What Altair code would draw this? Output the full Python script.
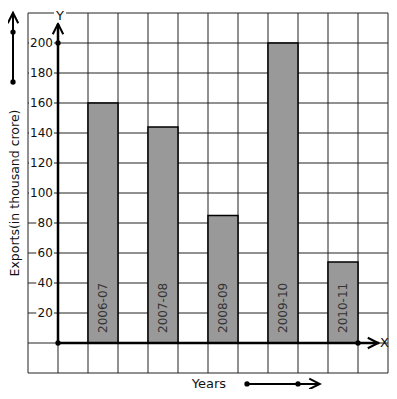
import altair as alt
import pandas as pd

# ---- data ----
years = ["2006-07", "2007-08", "2008-09", "2009-10", "2010-11"]
exports = [160, 144, 85, 200, 54]
bar_start = [1, 3, 5, 7, 9]
y_ticks = [20, 40, 60, 80, 100, 120, 140, 160, 180, 200]
grid_x = list(range(-1, 12))
grid_y = list(range(-20, 221, 20))

XD = [-1, 11]
YD = [-20, 220]
xs = alt.Scale(domain=XD, nice=False, zero=False)
ys = alt.Scale(domain=YD, nice=False, zero=False)
FONT = "DejaVu Sans"

def X(f="x"):
    return alt.X(f"{f}:Q", scale=xs, axis=None)

def Y(f="y"):
    return alt.Y(f"{f}:Q", scale=ys, axis=None)

# grid
vgrid = pd.DataFrame({"x": grid_x, "y": YD[0], "y2": YD[1]})
hgrid = pd.DataFrame({"y": grid_y, "x": XD[0], "x2": XD[1]})
grid_v = alt.Chart(vgrid).mark_rule(color="#222", strokeWidth=1).encode(
    x=X(), y=Y(), y2="y2:Q")
grid_h = alt.Chart(hgrid).mark_rule(color="#222", strokeWidth=1).encode(
    y=Y(), x=X(), x2="x2:Q")

# bars
bars_df = pd.DataFrame({"year": years, "value": exports, "x": bar_start,
                        "x2": [b + 1 for b in bar_start], "y0": 0})
bars = alt.Chart(bars_df).mark_rect(fill="#999999", stroke="#000", strokeWidth=1.5).encode(
    x=X(), x2="x2:Q", y=Y("y0"), y2="value:Q")
bars_df["xc"] = bars_df["x"] + 0.5
bars_df["yl"] = 6.7
bar_text = alt.Chart(bars_df).mark_text(angle=270, align="left", baseline="middle",
                                        fontSize=12, font=FONT, color="#333").encode(
    x=X("xc"), y=Y("yl"), text="year:N")

# y tick labels with white backgrounds
lab_x = -0.17
tk = pd.DataFrame({"v": y_ticks, "t": [str(v) for v in y_ticks]})
tk["x"] = lab_x
tk["xb1"] = lab_x - (7.3 * tk["t"].str.len() + 2) / 30
tk["xb2"] = lab_x + 1 / 30
tk["yb1"] = tk["v"] - 4
tk["yb2"] = tk["v"] + 4
tick_bg = alt.Chart(tk).mark_rect(fill="white").encode(
    x=X("xb1"), x2="xb2:Q", y=Y("yb1"), y2="yb2:Q")
tick_txt = alt.Chart(tk).mark_text(align="right", baseline="middle", fontSize=12,
                                   font=FONT, color="#111").encode(
    x=X(), y=Y("v"), text="t:N")

# axis lines and decorations
LX = -1.5      # left decorative arrow
BY = -27.3     # bottom "Years" row
segs = pd.DataFrame({
    "x":  [0, 0, LX, 6.3],
    "x2": [10.7, 0, LX, 8.7],
    "y":  [0, 0, 174, BY],
    "y2": [0, 212.7, 220, BY],
    "w":  ["a", "a", "b", "b"],
})
axis_lines = alt.Chart(segs).mark_rule(color="#000").encode(
    x=X(), x2="x2:Q", y=Y(), y2="y2:Q",
    strokeWidth=alt.StrokeWidth("w:N", scale=alt.Scale(domain=["a", "b"], range=[2.5, 2]), legend=None))

up = pd.DataFrame({"x": [0, LX], "y": [209.3, 216.7]})
right = pd.DataFrame({"x": [10.5, 8.55], "y": [0, BY]})
arrow_up = alt.Chart(up).mark_point(shape="M-1,1L0,-1L1,1", filled=False, size=110,
                                    color="#000", strokeWidth=2, opacity=1).encode(x=X(), y=Y())
arrow_right = alt.Chart(right).mark_point(shape="M-1,-1L1,0L-1,1", filled=False, size=110,
                                          color="#000", strokeWidth=2, opacity=1).encode(x=X(), y=Y())

dots = pd.DataFrame({"x": [0, 0, 10, LX, LX, 6.3, 8.0],
                     "y": [0, 200, 0, 207.3, 174, BY, BY]})
dot_m = alt.Chart(dots).mark_circle(color="#000", size=28, opacity=1).encode(x=X(), y=Y())

# Y label with background
ylab_bg = pd.DataFrame({"x": [-0.13], "x2": [0.27], "y": [213.5], "y2": [226]})
ylab_bg_m = alt.Chart(ylab_bg).mark_rect(fill="white").encode(
    x=X(), x2="x2:Q", y=Y(), y2="y2:Q")

texts = pd.DataFrame({
    "t": ["Y", "X", "Years"],
    "x": [0.067, 10.73, 5.03],
    "y": [218.0, 0.3, BY + 0.3],
    "a": ["center", "left", "center"],
})
txt_c = alt.Chart(texts[texts["a"] == "center"]).mark_text(
    align="center", baseline="middle", fontSize=13, font=FONT, color="#111").encode(
    x=X(), y=Y(), text="t:N")
txt_l = alt.Chart(texts[texts["a"] == "left"]).mark_text(
    align="left", baseline="middle", fontSize=13, font=FONT, color="#111").encode(
    x=X(), y=Y(), text="t:N")

ytitle = pd.DataFrame({"t": ["Exports(in thousand crore)"], "x": [-1.43], "y": [100]})
ytitle_m = alt.Chart(ytitle).mark_text(angle=270, align="center", baseline="middle",
                                       fontSize=12.5, font=FONT, color="#111").encode(
    x=X(), y=Y(), text="t:N")

chart = alt.layer(
    grid_v, grid_h, bars, bar_text, tick_bg, tick_txt, axis_lines,
    arrow_up, arrow_right, dot_m, ylab_bg_m, txt_c, txt_l, ytitle_m
).properties(
    width=360, height=360,
    autosize=alt.AutoSizeParams(type="none"),
    padding={"left": 20, "top": 5, "right": 1, "bottom": 16},
).configure_view(stroke=None)

chart.save("out.html", embed_options={"renderer": "svg", "actions": False})
